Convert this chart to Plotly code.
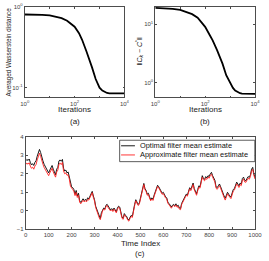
import plotly.graph_objects as go

# ---- (a) & (b): convergence curves ----
iters = [1, 2, 5, 10, 20, 30, 50, 70, 100, 150, 200, 300, 400, 500, 700,
         1000, 1300, 1600, 2000, 2500, 3000, 5000, 10000]
wass = [0.80, 0.80, 0.79, 0.78, 0.75, 0.72, 0.67, 0.62, 0.565, 0.47, 0.39,
        0.28, 0.22, 0.178, 0.128, 0.100, 0.092, 0.088, 0.086, 0.085, 0.085,
        0.085, 0.085]
cnorm = [18.9, 18.7, 18.2, 17.5, 16.0, 14.8, 12.9, 10.8, 9.0, 6.6, 5.3,
         3.6, 2.75, 2.1, 1.35, 0.98, 0.82, 0.74, 0.69, 0.665, 0.655,
         0.65, 0.65]

# ---- (c): filter mean estimates (every 5th time index) ----
time_idx = list(range(0, 1001, 5))
optimal = [
    2.70, 2.78, 2.72, 2.80, 2.62, 2.48, 2.55, 2.45, 2.62, 2.70,
    2.95, 3.10, 3.32, 3.15, 2.85, 2.70, 2.52, 2.40, 2.25, 2.10,
    2.05, 2.20, 2.30, 2.45, 2.25, 2.05, 1.95, 2.25, 2.35, 2.70,
    2.75, 2.68, 2.78, 2.30, 2.15, 2.20, 2.05, 2.10, 1.85, 1.45,
    1.30, 1.25, 1.15, 0.90, 1.10, 0.80, 0.95, 0.55, 0.45, 0.55,
    0.65, 0.55, 0.62, 0.55, 0.70, 0.65, 0.78, 0.95, 1.05, 0.80,
    0.60, 0.25, 0.05, -0.10, -0.30, -0.42, -0.10, 0.05, 0.15, 0.10,
    0.30, 0.35, 0.22, 0.10, 0.05, 0.12, 0.02, 0.15, 0.00, -0.05,
    0.15, 0.25, 0.20, -0.10, -0.35, -0.40, -0.15, -0.25, -0.30, -0.45,
    -0.50, -0.35, -0.25, -0.30, 0.10, 0.35, 0.60, 0.50, 0.35, 0.40,
    0.70, 0.85, 1.25, 1.48, 1.20, 1.10, 0.90, 0.95, 0.75, 0.60,
    0.70, 0.62, 0.85, 1.00, 1.15, 1.38, 1.30, 1.20, 1.10, 0.95,
    1.00, 0.85, 0.75, 0.70, 0.45, 0.40, 0.25, 0.20, 0.30, 0.35,
    0.28, 0.38, 0.25, 0.30, 0.15, 0.12, 0.40, 0.55, 0.60, 0.78,
    0.90, 0.85, 1.05, 1.25, 1.15, 1.35, 1.50, 1.20, 1.00, 0.92,
    1.15, 1.35, 1.30, 1.65, 1.90, 1.75, 1.70, 1.85, 1.78, 1.90,
    1.85, 2.00, 2.08, 1.90, 1.75, 1.65, 1.30, 1.25, 1.35, 1.45,
    1.30, 1.10, 0.95, 0.80, 0.68, 0.80, 1.00, 0.90, 0.78, 0.75,
    0.95, 1.15, 1.20, 1.45, 1.55, 1.45, 1.35, 1.50, 1.45, 1.75,
    1.82, 1.65, 1.62, 1.75, 1.85, 1.80, 1.95, 2.25, 2.35, 2.00,
    1.80]
approx = [
    2.50, 2.58, 2.52, 2.60, 2.42, 2.30, 2.36, 2.25, 2.42, 2.50,
    2.75, 2.90, 3.12, 2.95, 2.68, 2.52, 2.35, 2.22, 2.08, 1.95,
    1.90, 2.05, 2.15, 2.30, 2.10, 1.90, 1.82, 2.10, 2.20, 2.52,
    2.58, 2.50, 2.62, 2.15, 2.00, 2.05, 1.92, 1.95, 1.72, 1.33,
    1.20, 1.15, 1.05, 0.82, 1.00, 0.72, 0.86, 0.47, 0.38, 0.47,
    0.57, 0.48, 0.55, 0.48, 0.62, 0.58, 0.70, 0.88, 0.98, 0.72,
    0.53, 0.18, -0.02, -0.16, -0.36, -0.48, -0.16, -0.01, 0.09, 0.04,
    0.24, 0.29, 0.16, 0.04, -0.01, 0.06, -0.04, 0.09, -0.06, -0.11,
    0.09, 0.19, 0.14, -0.16, -0.41, -0.46, -0.21, -0.31, -0.36, -0.51,
    -0.56, -0.41, -0.31, -0.36, 0.04, 0.29, 0.54, 0.44, 0.29, 0.34,
    0.64, 0.79, 1.19, 1.42, 1.14, 1.04, 0.84, 0.89, 0.69, 0.54,
    0.64, 0.56, 0.79, 0.94, 1.09, 1.32, 1.24, 1.14, 1.04, 0.89,
    0.94, 0.79, 0.69, 0.64, 0.39, 0.34, 0.19, 0.14, 0.24, 0.29,
    0.22, 0.32, 0.19, 0.24, 0.09, 0.06, 0.34, 0.49, 0.54, 0.72,
    0.84, 0.79, 0.99, 1.19, 1.09, 1.29, 1.42, 1.14, 0.94, 0.84,
    1.08, 1.28, 1.22, 1.58, 1.82, 1.68, 1.62, 1.76, 1.70, 1.82,
    1.76, 1.92, 1.98, 1.82, 1.66, 1.56, 1.22, 1.16, 1.26, 1.36,
    1.22, 1.02, 0.86, 0.72, 0.58, 0.72, 0.92, 0.82, 0.70, 0.66,
    0.86, 1.06, 1.12, 1.36, 1.46, 1.36, 1.26, 1.42, 1.36, 1.66,
    1.72, 1.56, 1.54, 1.66, 1.76, 1.70, 1.86, 2.14, 2.24, 1.92,
    1.72]

series_names = ["Optimal filter mean estimate", "Approximate filter mean estimate"]
series_colors = ["black", "#ff2020"]

log_ticks = [1, 10, 100, 1000, 10000]
log_tick_text = ["10<sup>0</sup>", "", "10<sup>2</sup>", "", "10<sup>4</sup>"]
c_xticks = [0, 100, 200, 300, 400, 500, 600, 700, 800, 900, 1000]
c_yticks = [-1, 0, 1, 2, 3, 4]

W, H = 269, 261
FONT = "Liberation Sans, Arial, Helvetica, sans-serif"
AX = "#4d4d4d"

fig = go.Figure()
fig.add_trace(go.Scatter(x=iters, y=wass, mode="lines", line=dict(color="black", width=1.8),
                         xaxis="x", yaxis="y", showlegend=False))
fig.add_trace(go.Scatter(x=iters, y=cnorm, mode="lines", line=dict(color="black", width=1.8),
                         xaxis="x2", yaxis="y2", showlegend=False))
for ys, nm, col in zip([optimal, approx], series_names, series_colors):
    fig.add_trace(go.Scatter(x=time_idx, y=ys, mode="lines", line=dict(color=col, width=0.9),
                             xaxis="x3", yaxis="y3", name=nm, showlegend=False))

def px_x(p):
    return p / W

def px_y(p):
    return 1 - p / H

common = dict(showline=True, linecolor=AX, linewidth=0.8, mirror="ticks", ticks="inside",
              ticklen=2, tickcolor=AX, tickwidth=0.6, tickfont=dict(size=6, color="#444", family=FONT),
              showgrid=False, zeroline=False)

fig.update_layout(
    width=W, height=H, margin=dict(l=0, r=0, t=0, b=0),
    paper_bgcolor="white", plot_bgcolor="white",
    font=dict(family=FONT, color="black"),
    showlegend=False,
    xaxis=dict(type="log", range=[0, 4], domain=[px_x(20.7), px_x(125)], anchor="y",
               tickvals=log_ticks, ticktext=log_tick_text, **common),
    yaxis=dict(type="log", range=[-1.12, 0], domain=[px_y(96), px_y(2.7)], anchor="x",
               tickvals=[0.1, 1], ticktext=["10<sup>-1</sup>", "10<sup>0</sup>"], **common),
    xaxis2=dict(type="log", range=[0, 4], domain=[px_x(157.3), px_x(261.7)], anchor="y2",
                tickvals=log_ticks, ticktext=log_tick_text, **common),
    yaxis2=dict(type="log", range=[-0.249, 1.298], domain=[px_y(96), px_y(2.7)], anchor="x2",
                tickvals=[1, 10], ticktext=["10<sup>0</sup>", "10<sup>1</sup>"], **common),
    xaxis3=dict(range=[0, 1000], domain=[px_x(21.7), px_x(261.7)], anchor="y3",
                tickvals=c_xticks, **common),
    yaxis3=dict(range=[-1, 4], domain=[px_y(231.5), px_y(136.5)], anchor="x3",
                tickvals=c_yticks, **common),
)

# legend box (drawn manually to match the compact MATLAB legend)
fig.add_shape(type="rect", xref="paper", yref="paper",
              x0=px_x(120), x1=px_x(261.5), y0=px_y(162), y1=px_y(140),
              line=dict(color="#333", width=0.8), fillcolor="white", layer="above")
for i, (nm, col) in enumerate(zip(series_names, series_colors)):
    yc = 145.7 + i * 9.4
    fig.add_shape(type="line", xref="paper", yref="paper",
                  x0=px_x(121.5), x1=px_x(136), y0=px_y(yc), y1=px_y(yc),
                  line=dict(color=col, width=0.9), layer="above")
    fig.add_annotation(text=nm, x=px_x(139), y=px_y(yc), xref="paper", yref="paper",
                       showarrow=False, xanchor="left", yanchor="middle",
                       font=dict(size=7.4, family=FONT, color="#111"))

ann = [
    ("Iterations", 72.8, 108, 8, 0),
    ("(a)", 72.8, 120.5, 8, 0),
    ("Iterations", 209.5, 108, 8, 0),
    ("(b)", 209.5, 120.5, 8, 0),
    ("Time Index", 141.7, 246.5, 8, 0),
    ("(c)", 141.7, 256.5, 8, 0),
    ("Averaged Wasserstein distance", 4, 49, 6.3, -90),
    ("‖<i>C<sub>k</sub></i> − <i>C</i><sup>*</sup>‖", 141, 49, 7, -90),
]
for text, x, y, size, ang in ann:
    fig.add_annotation(text=text, x=px_x(x), y=px_y(y), xref="paper", yref="paper",
                       showarrow=False, textangle=ang, xanchor="center", yanchor="middle",
                       font=dict(size=size, family=FONT, color="#222"))

fig.write_html("out.html", config={"displayModeBar": False},
               post_script="document.body.style.margin='0px';document.body.style.overflow='hidden';")
